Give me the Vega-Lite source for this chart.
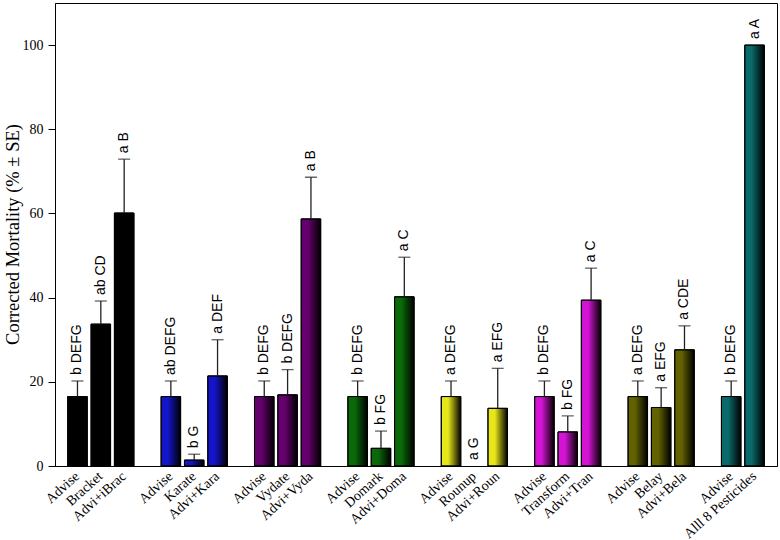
{
  "$schema": "https://vega.github.io/schema/vega-lite/v6.json",
  "width": 722,
  "height": 463,
  "autosize": {"type": "none"},
  "padding": {"left": 55, "top": 3, "right": 3, "bottom": 74},
  "background": "white",
  "config": {
    "view": {"stroke": "black", "strokeWidth": 1},
    "axis": {"domainColor": "black", "tickColor": "black", "labelColor": "black", "titleColor": "black", "grid": false}
  },
  "data": {
    "values": [
      {"id": "1 Advise", "group": "g1", "value": 16.5, "err": 20.2, "sig": "b DEFG"},
      {"id": "1 Bracket", "group": "g1", "value": 33.7, "err": 39.2, "sig": "ab CD"},
      {"id": "1 Advi+iBrac", "group": "g1", "value": 60.1, "err": 72.9, "sig": "a B"},
      {"id": "2 Advise", "group": "g2", "value": 16.5, "err": 20.2, "sig": "ab DEFG"},
      {"id": "2 Karate", "group": "g2", "value": 1.4, "err": 2.8, "sig": "b G"},
      {"id": "2 Advi+Kara", "group": "g2", "value": 21.4, "err": 30.0, "sig": "a DEF"},
      {"id": "3 Advise", "group": "g3", "value": 16.5, "err": 20.2, "sig": "b DEFG"},
      {"id": "3 Vydate", "group": "g3", "value": 16.9, "err": 22.9, "sig": "b DEFG"},
      {"id": "3 Advi+Vyda", "group": "g3", "value": 58.7, "err": 68.6, "sig": "a B"},
      {"id": "4 Advise", "group": "g4", "value": 16.5, "err": 20.2, "sig": "b DEFG"},
      {"id": "4 Domark", "group": "g4", "value": 4.2, "err": 8.3, "sig": "b FG"},
      {"id": "4 Advi+Doma", "group": "g4", "value": 40.2, "err": 49.6, "sig": "a C"},
      {"id": "5 Advise", "group": "g5", "value": 16.5, "err": 20.2, "sig": "a DEFG"},
      {"id": "5 Rounup", "group": "g5", "value": 0, "err": 0, "sig": "a G"},
      {"id": "5 Advi+Roun", "group": "g5", "value": 13.7, "err": 23.2, "sig": "a EFG"},
      {"id": "6 Advise", "group": "g6", "value": 16.5, "err": 20.2, "sig": "b DEFG"},
      {"id": "6 Transform", "group": "g6", "value": 8.1, "err": 11.9, "sig": "b FG"},
      {"id": "6 Advi+Tran", "group": "g6", "value": 39.4, "err": 47.0, "sig": "a C"},
      {"id": "7 Advise", "group": "g7", "value": 16.5, "err": 20.2, "sig": "a DEFG"},
      {"id": "7 Belay", "group": "g7", "value": 13.9, "err": 18.6, "sig": "a EFG"},
      {"id": "7 Advi+Bela", "group": "g7", "value": 27.6, "err": 33.3, "sig": "a CDE"},
      {"id": "8 Advise", "group": "g8", "value": 16.5, "err": 20.2, "sig": "b DEFG"},
      {"id": "8 Alll 8 Pesticides", "group": "g8", "value": 100, "err": 100, "sig": "a A"}
    ]
  },
  "encoding": {
    "x": {
      "field": "id",
      "type": "nominal",
      "sort": null,
      "scale": {
        "domain": ["1 Advise", "1 Bracket", "1 Advi+iBrac", "g1", "2 Advise", "2 Karate", "2 Advi+Kara", "g2", "3 Advise", "3 Vydate", "3 Advi+Vyda", "g3", "4 Advise", "4 Domark", "4 Advi+Doma", "g4", "5 Advise", "5 Rounup", "5 Advi+Roun", "g5", "6 Advise", "6 Transform", "6 Advi+Tran", "g6", "7 Advise", "7 Belay", "7 Advi+Bela", "g7", "8 Advise", "8 Alll 8 Pesticides"],
        "paddingInner": 0.165,
        "paddingOuter": 0.545
      },
      "axis": {
        "title": null,
        "ticks": false,
        "domain": true,
        "labelAngle": -42,
        "labelAlign": "right",
        "labelBaseline": "middle",
        "labelFont": "Liberation Serif",
        "labelFontSize": 14,
        "labelPadding": 8,
        "labelOverlap": false,
        "labelExpr": "test(/^[0-9] /, datum.label) ? replace(datum.label, /^[0-9] /, '') : ''"
      }
    }
  },
  "layer": [
    {
      "transform": [{"filter": "datum.value > 0"}],
      "mark": {"type": "bar", "stroke": "black", "strokeWidth": 1},
      "encoding": {
        "y": {
          "field": "value",
          "type": "quantitative",
          "scale": {"domain": [0, 110], "nice": false},
          "axis": {
            "title": "Corrected Mortality (% ± SE)",
            "titleFont": "Liberation Serif",
            "titleFontSize": 18.5,
            "titleFontWeight": "normal",
            "titleAngle": 270,
            "titleX": -43,
            "titleY": 231,
            "titleAlign": "center",
            "titleBaseline": "middle",
            "values": [0, 20, 40, 60, 80, 100],
            "labelFont": "Liberation Serif",
            "labelFontSize": 14,
            "tickSize": 7,
            "labelPadding": 5
          }
        },
        "fill": {
          "field": "group",
          "type": "nominal",
          "scale": {
            "domain": ["g1", "g2", "g3", "g4", "g5", "g6", "g7", "g8"],
            "range": ["#000000", "#1414c8", "#66006e", "#0a6a0a", "#e6e61a", "#d414d4", "#626200", "#0a6a6a"]
          },
          "legend": null
        }
      }
    },
    {
      "transform": [{"filter": "datum.value > 0"}],
      "mark": {
        "type": "bar",
        "strokeWidth": 0,
        "fill": {
          "gradient": "linear",
          "x1": 0, "x2": 1, "y1": 0, "y2": 0,
          "stops": [
            {"offset": 0, "color": "rgba(0,0,0,0)"},
            {"offset": 0.35, "color": "rgba(0,0,0,0)"},
            {"offset": 1, "color": "rgba(0,0,0,1)"}
          ]
        }
      },
      "encoding": {
        "y": {"field": "value", "type": "quantitative"}
      }
    },
    {
      "transform": [{"filter": "datum.value > 0"}],
      "mark": {"type": "bar", "fill": null, "stroke": "black", "strokeWidth": 1},
      "encoding": {
        "y": {"field": "value", "type": "quantitative"}
      }
    },
    {
      "transform": [{"filter": "datum.err > datum.value"}],
      "mark": {"type": "rule", "color": "#222222", "strokeWidth": 1.3},
      "encoding": {
        "y": {"field": "value", "type": "quantitative"},
        "y2": {"field": "err"}
      }
    },
    {
      "transform": [{"filter": "datum.err > datum.value"}],
      "mark": {"type": "tick", "color": "#222222", "thickness": 1.3, "size": 12},
      "encoding": {
        "y": {"field": "err", "type": "quantitative"}
      }
    },
    {
      "mark": {"type": "text", "angle": 270, "align": "left", "baseline": "middle", "dx": 6, "font": "Liberation Sans", "fontSize": 14, "color": "black"},
      "encoding": {
        "y": {"field": "err", "type": "quantitative"},
        "text": {"field": "sig"}
      }
    }
  ]
}
